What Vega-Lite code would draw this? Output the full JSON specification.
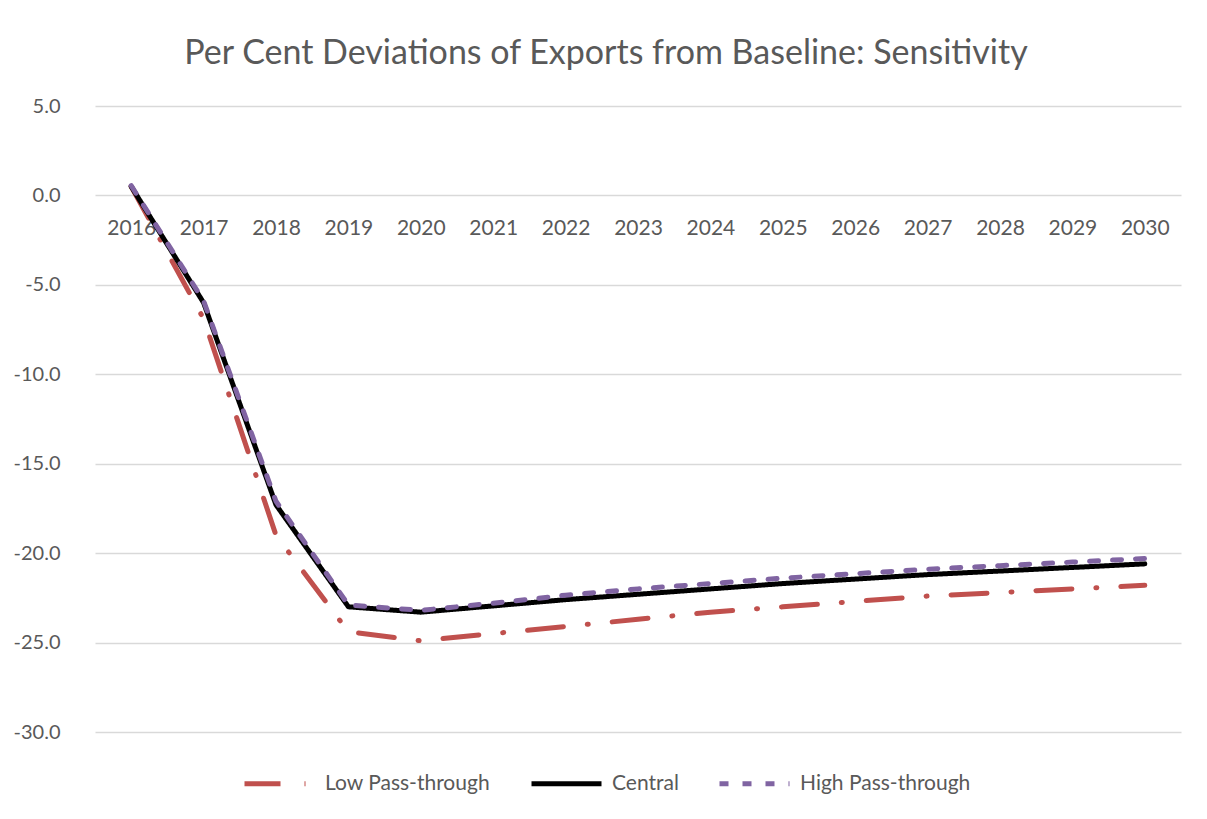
{
  "$schema": "https://vega.github.io/schema/vega-lite/v6.json",
  "autosize": {"type": "none"},
  "width": 1086,
  "height": 626,
  "padding": {"left": 95, "top": 106, "right": 26, "bottom": 87},
  "background": "white",
  "title": {
    "text": "Per Cent Deviations of Exports from Baseline: Sensitivity",
    "font": "Lato",
    "fontSize": 34,
    "fontWeight": "normal",
    "color": "#595959",
    "anchor": "middle",
    "dx": -32,
    "offset": 25
  },
  "data": {
    "values": [
      {"year": "2016", "series": "Low Pass-through", "value": 0.5},
      {"year": "2017", "series": "Low Pass-through", "value": -6.9},
      {"year": "2018", "series": "Low Pass-through", "value": -19.0},
      {"year": "2019", "series": "Low Pass-through", "value": -24.4},
      {"year": "2020", "series": "Low Pass-through", "value": -24.9},
      {"year": "2021", "series": "Low Pass-through", "value": -24.5},
      {"year": "2022", "series": "Low Pass-through", "value": -24.1},
      {"year": "2023", "series": "Low Pass-through", "value": -23.7},
      {"year": "2024", "series": "Low Pass-through", "value": -23.3},
      {"year": "2025", "series": "Low Pass-through", "value": -23.0},
      {"year": "2026", "series": "Low Pass-through", "value": -22.7},
      {"year": "2027", "series": "Low Pass-through", "value": -22.4},
      {"year": "2028", "series": "Low Pass-through", "value": -22.2},
      {"year": "2029", "series": "Low Pass-through", "value": -22.0},
      {"year": "2030", "series": "Low Pass-through", "value": -21.8},
      {"year": "2016", "series": "Central", "value": 0.5},
      {"year": "2017", "series": "Central", "value": -6.0},
      {"year": "2018", "series": "Central", "value": -17.3},
      {"year": "2019", "series": "Central", "value": -23.0},
      {"year": "2020", "series": "Central", "value": -23.3},
      {"year": "2021", "series": "Central", "value": -22.95},
      {"year": "2022", "series": "Central", "value": -22.6},
      {"year": "2023", "series": "Central", "value": -22.3},
      {"year": "2024", "series": "Central", "value": -22.0},
      {"year": "2025", "series": "Central", "value": -21.7},
      {"year": "2026", "series": "Central", "value": -21.45},
      {"year": "2027", "series": "Central", "value": -21.2},
      {"year": "2028", "series": "Central", "value": -21.0},
      {"year": "2029", "series": "Central", "value": -20.8},
      {"year": "2030", "series": "Central", "value": -20.6},
      {"year": "2016", "series": "High Pass-through", "value": 0.55},
      {"year": "2017", "series": "High Pass-through", "value": -5.9},
      {"year": "2018", "series": "High Pass-through", "value": -17.1},
      {"year": "2019", "series": "High Pass-through", "value": -22.9},
      {"year": "2020", "series": "High Pass-through", "value": -23.2},
      {"year": "2021", "series": "High Pass-through", "value": -22.8},
      {"year": "2022", "series": "High Pass-through", "value": -22.35},
      {"year": "2023", "series": "High Pass-through", "value": -22.0},
      {"year": "2024", "series": "High Pass-through", "value": -21.7},
      {"year": "2025", "series": "High Pass-through", "value": -21.4},
      {"year": "2026", "series": "High Pass-through", "value": -21.15},
      {"year": "2027", "series": "High Pass-through", "value": -20.9},
      {"year": "2028", "series": "High Pass-through", "value": -20.7},
      {"year": "2029", "series": "High Pass-through", "value": -20.5},
      {"year": "2030", "series": "High Pass-through", "value": -20.3}
    ]
  },
  "mark": {"type": "line", "strokeWidth": 5, "strokeCap": "round", "strokeJoin": "round"},
  "encoding": {
    "x": {
      "field": "year",
      "type": "ordinal",
      "scale": {"paddingInner": 0, "paddingOuter": 0.5},
      "axis": {
        "title": null,
        "labelAngle": 0,
        "ticks": false,
        "domain": false,
        "grid": false,
        "offset": -536,
        "labelPadding": 21,
        "labelFont": "Lato",
        "labelFontSize": 21,
        "labelColor": "#595959"
      }
    },
    "y": {
      "field": "value",
      "type": "quantitative",
      "scale": {"domain": [-30, 5], "nice": false, "zero": false},
      "axis": {
        "title": null,
        "values": [5, 0, -5, -10, -15, -20, -25, -30],
        "labelExpr": "replace(format(datum.value, '.1f'), '\u2212', '-')",
        "domain": false,
        "ticks": false,
        "gridColor": "#d9d9d9",
        "gridWidth": 1.5,
        "labelPadding": 35,
        "labelFont": "Lato",
        "labelFontSize": 20,
        "labelColor": "#595959"
      }
    },
    "color": {
      "field": "series",
      "type": "nominal",
      "sort": ["Low Pass-through", "Central", "High Pass-through"],
      "scale": {
        "domain": ["Low Pass-through", "Central", "High Pass-through"],
        "range": ["#C0504D", "#000000", "#8064A2"]
      },
      "legend": {
        "title": null,
        "orient": "none",
        "direction": "horizontal",
        "legendX": 147,
        "legendY": 640,
        "symbolType": "stroke",
        "symbolSize": 4900,
        "symbolStrokeWidth": 5,
        "labelFont": "Lato",
        "labelFontSize": 21,
        "labelLimit": 400,
        "labelColor": "#595959",
        "labelOffset": 8,
        "columnPadding": 30,
        "padding": 0
      }
    },
    "strokeDash": {
      "field": "series",
      "type": "nominal",
      "sort": ["Low Pass-through", "Central", "High Pass-through"],
      "scale": {
        "domain": ["Low Pass-through", "Central", "High Pass-through"],
        "range": [[36, 24, 1, 24], [1, 0], [9, 14]]
      },
      "legend": null
    }
  },
  "config": {
    "view": {"stroke": null}
  }
}
